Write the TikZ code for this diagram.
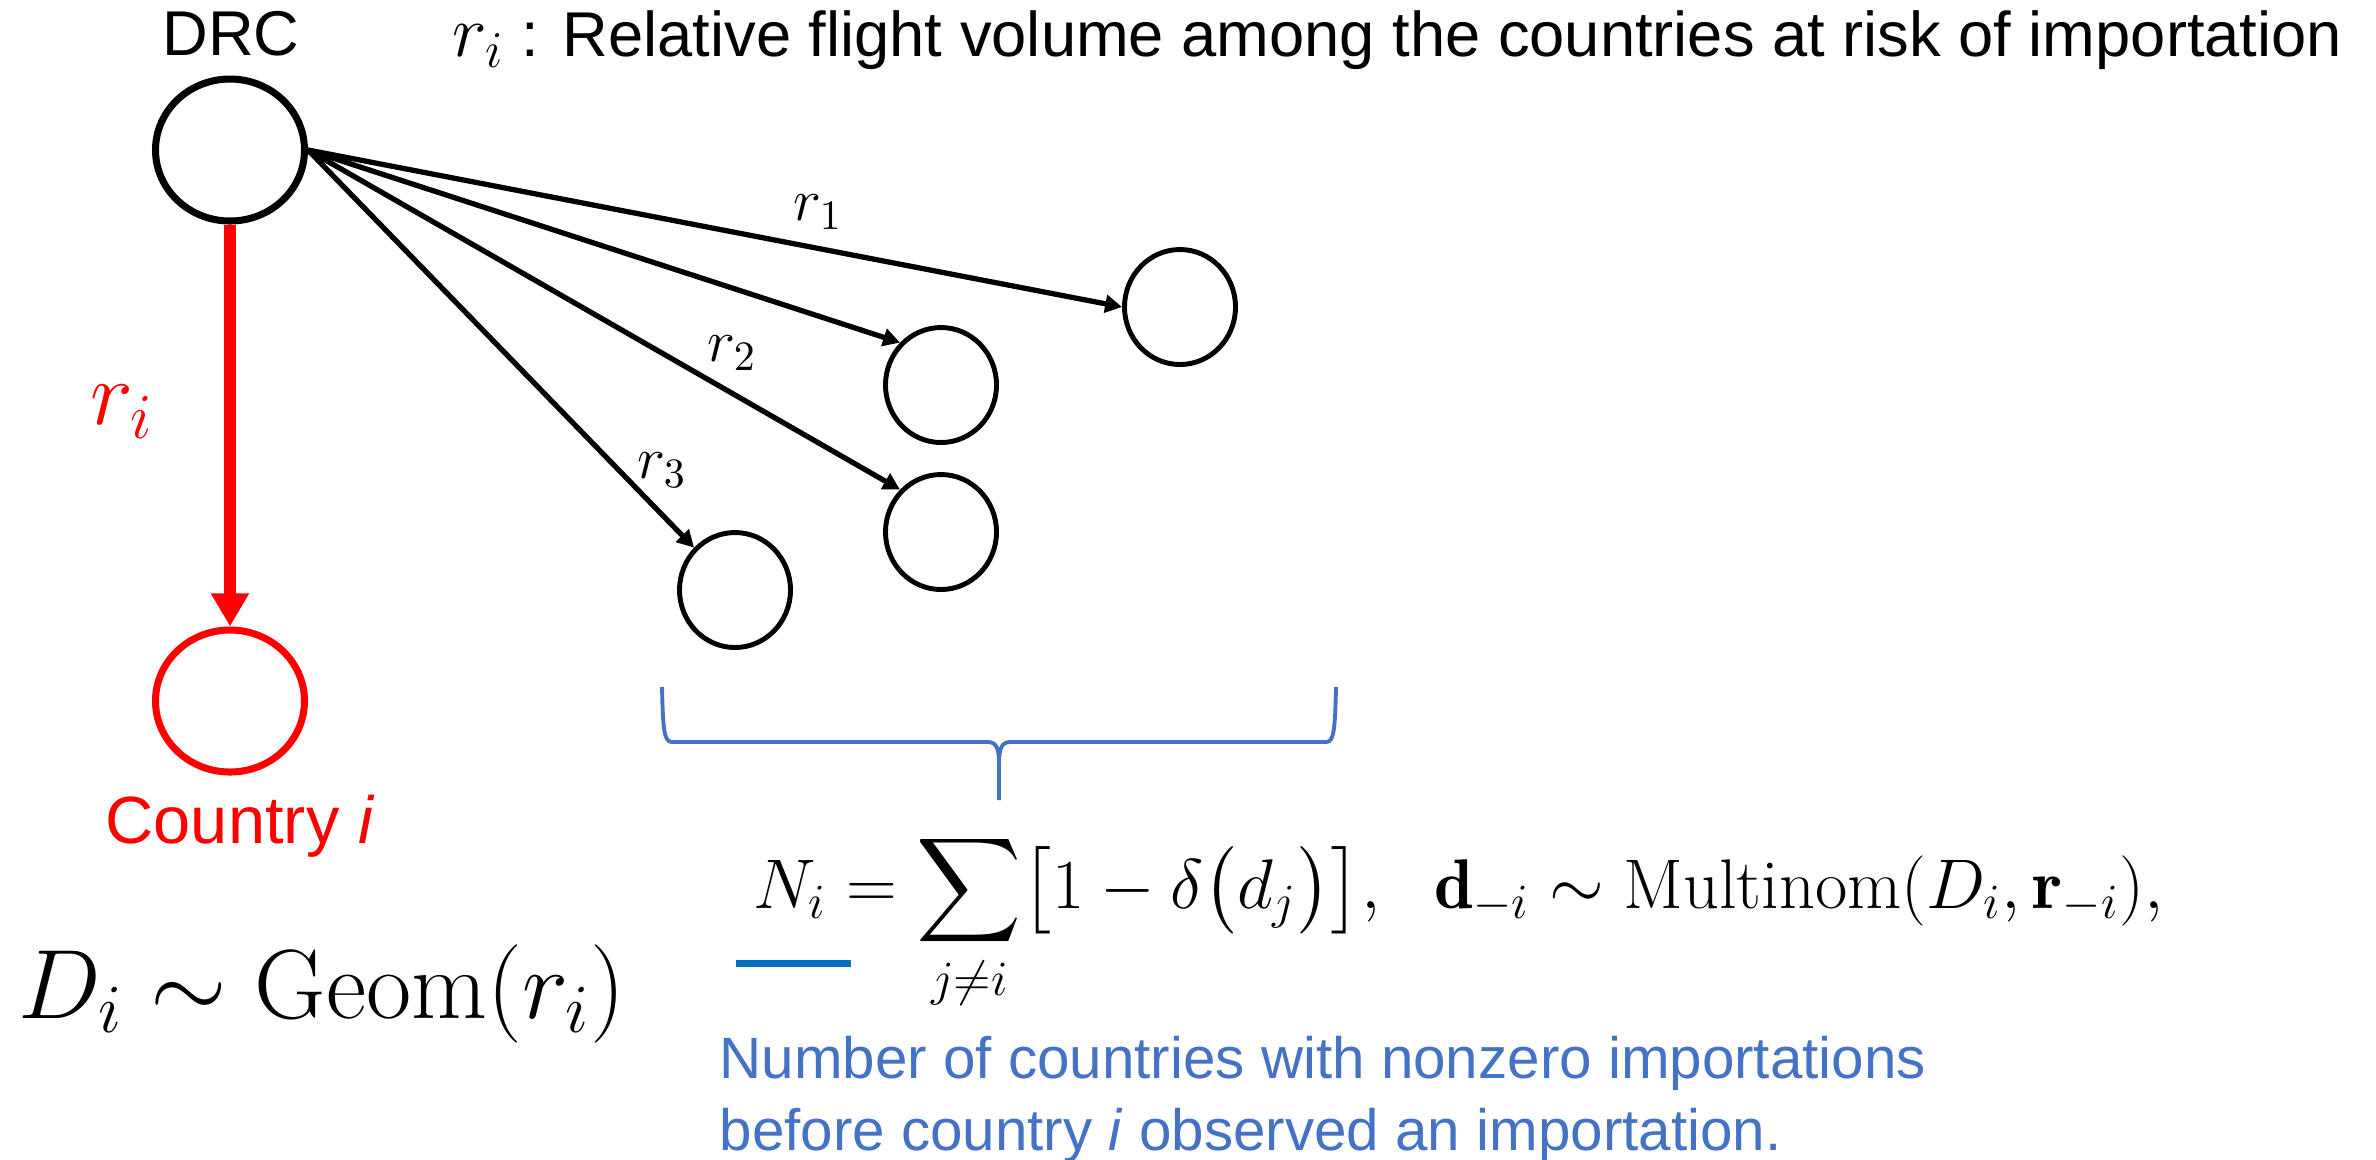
\documentclass[tikz,border=0pt]{standalone}
\usepackage{fix-cm}
\usepackage{amsmath}
\usepackage{fontspec}
\setsansfont{Liberation Sans}
\usepackage{xcolor}
\usepackage{tikz}
\usetikzlibrary{arrows.meta,positioning,shapes.geometric}
\definecolor{risk}{RGB}{255,0,0}
\definecolor{note}{RGB}{68,114,196}
\definecolor{mark}{RGB}{0,112,192}
\newcommand{\txtsize}{\fontsize{18}{21}\selectfont}
\tikzset{
  country/.style={draw, ellipse, line width=1.4pt, inner sep=0pt, fill=white,
    minimum width=1.11cm, minimum height=1.15cm},
  source/.style={country, line width=2pt, minimum width=1.49cm, minimum height=1.42cm},
  target/.style={source, draw=risk},
  flow/.style={draw, line width=1.5pt, -{Triangle[length=4.8pt,width=5pt]}},
  riskflow/.style={draw=risk, line width=3.4pt, -{Triangle[length=9.4pt,width=10.2pt]}},
  lbl/.style={font=\sffamily\txtsize, inner sep=0pt, anchor=base west},
  rlbl/.style={font=\fontsize{17}{20}\selectfont, inner sep=0pt},
  eqn/.style={inner sep=0pt, anchor=base west},
  bracepath/.style={draw=note, line width=1.1pt},
  notelbl/.style={font=\sffamily\fontsize{16.6}{20}\selectfont, text=note, inner sep=0pt, anchor=base west}
}
\begin{document}
\begin{tikzpicture}
  \useasboundingbox (0,0) rectangle (23.76,-11.59);

  % countries
  \node[source] (drc) at (2.30,-1.50) {};
  \node[target] (ctry) at (2.30,-7.01) {};
  \node[country] (cone) at (11.80,-3.07) {};
  \node[country] (ctwo) at (9.41,-3.85) {};
  \node[country] (cthree) at (9.41,-5.32) {};
  \node[country] (cfour) at (7.35,-5.90) {};

  \node[lbl, anchor=base] (drclbl) at (2.31,-0.55) {DRC};
  \node[lbl] (legend) at (4.52,-0.56) {{\fontsize{21}{21}\selectfont$r_i$} : Relative flight volume among the countries at risk of importation};
  \node[lbl, anchor=base, text=risk, font=\sffamily\fontsize{19}{22}\selectfont] (ctrylbl) at (2.40,-8.43) {Country \textit{i}};

  % flights
  \draw[flow] (drc.east) -- (cone.west);
  \draw[flow] (drc.east) -- (ctwo.north west);
  \draw[flow] (drc.east) -- (cthree.north west);
  \draw[flow] (drc.east) -- (cfour.north west);
  \draw[riskflow] (drc) -- (ctry);

  \node[rlbl] (rone) at (8.18,-2.12) {$r_1$};
  \node[rlbl] (rtwo) at (7.32,-3.53) {$r_2$};
  \node[rlbl] (rthree) at (6.62,-4.70) {$r_3$};
  \node[rlbl, text=risk, font=\fontsize{26}{30}\selectfont] (rred) at (1.22,-4.12) {$r_i$};

  % brace
  \draw[bracepath] (6.62,-6.87) .. controls (6.63,-7.30) and (6.64,-7.42) .. (6.72,-7.42) -- (9.88,-7.42)
    .. controls (9.97,-7.42) and (9.99,-7.50) .. (9.99,-7.64) -- (9.99,-8.00);
  \draw[bracepath] (13.36,-6.87) .. controls (13.35,-7.30) and (13.34,-7.42) .. (13.26,-7.42) -- (10.10,-7.42)
    .. controls (10.01,-7.42) and (9.99,-7.50) .. (9.99,-7.64);

  % formulas
  \node[eqn, font=\fontsize{28}{31}\selectfont] (geom) at (0.18,-10.18) {$D_i \sim \mathrm{Geom}(r_i)$};
  \node[eqn, font=\fontsize{20}{24}\selectfont] (multi) at (7.53,-9.08)
    {$\displaystyle N_i = \sum_{j\neq i}\bigl[1-\delta\bigl(d_j\bigr)\bigr],\ \ \mathbf{d}_{-i}\sim\mathrm{Multinom}(D_i,\mathbf{r}_{-i}),$};
  \draw[draw=mark, line width=2pt] (7.36,-9.63) -- (8.51,-9.63);

  \node[notelbl] (noteone) at (7.19,-10.78) {Number of countries with nonzero importations};
  \node[notelbl] (notetwo) at (7.19,-11.50) {before country \textit{i} observed an importation.};
\end{tikzpicture}
\end{document}
